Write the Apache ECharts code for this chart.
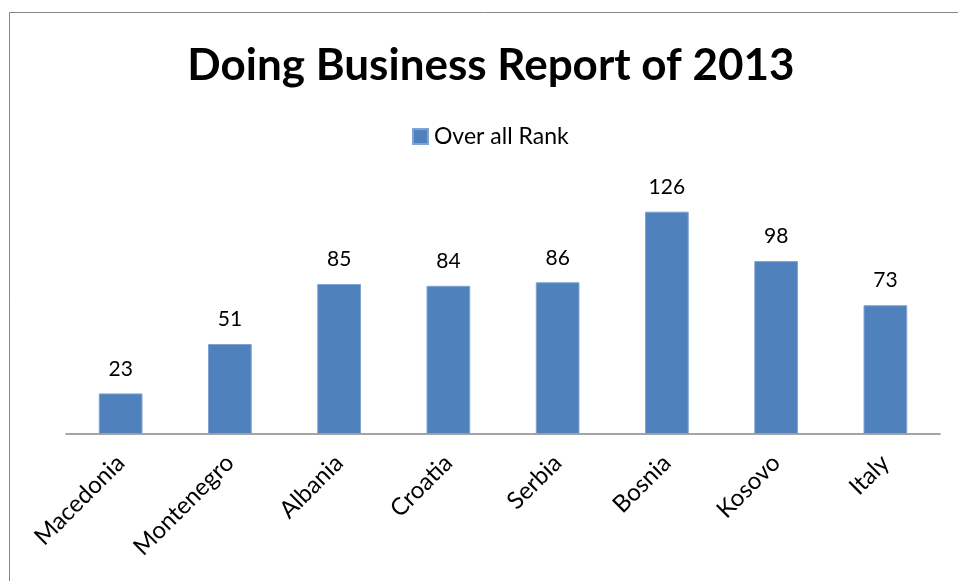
<!DOCTYPE html>
<html>
<head>
<meta charset="utf-8">
<script src="https://cdn.jsdelivr.net/npm/echarts@6/dist/echarts.min.js"></script>
<style>
  html, body { margin: 0; padding: 0; background: #fff; }
  #chart { width: 958px; height: 581px; }
</style>
</head>
<body>
<div id="chart"></div>
<script>
// Doing Business 2013 — overall rank by country
const countries = ['Macedonia', 'Montenegro', 'Albania', 'Croatia', 'Serbia', 'Bosnia', 'Kosovo', 'Italy'];
const overallRank = [23, 51, 85, 84, 86, 126, 98, 73];
const seriesName = 'Over all Rank';
const chartTitle = 'Doing Business Report of 2013';

const FONT = 'Lato, "Open Sans", sans-serif';

const chart = echarts.init(document.getElementById('chart'), null, { renderer: 'canvas' });
chart.setOption({
  backgroundColor: '#ffffff',
  animation: false,
  title: {
    text: chartTitle,
    left: 486,
    top: 39,
    textAlign: 'center',
    textStyle: { fontFamily: FONT, fontWeight: 'bold', fontSize: 44, color: '#000' }
  },
  legend: {
    data: [seriesName],
    left: 412,
    top: 125,
    padding: 0,
    itemWidth: 15,
    itemHeight: 15,
    itemGap: 6,
    icon: 'rect',
    textStyle: { fontFamily: FONT, fontSize: 23, color: '#000', padding: [0, 0, 0, 1] }
  },
  graphic: [{
    type: 'rect',
    shape: { x: 9.5, y: 12.5, width: 1000, height: 1000 },
    style: { fill: 'none', stroke: '#868686', lineWidth: 1 },
    silent: true
  }],
  grid: { left: 66, right: 18, top: 187, bottom: 147, containLabel: false },
  xAxis: {
    type: 'category',
    data: countries,
    axisLine: { lineStyle: { color: '#868686', width: 1.5 } },
    axisTick: { show: false },
    axisLabel: {
      rotate: 45,
      margin: 25,
      interval: 0,
      fontFamily: FONT,
      fontSize: 24,
      color: '#000'
    }
  },
  yAxis: {
    type: 'value',
    min: 0,
    max: 140,
    interval: 20,
    show: false,
    splitLine: { show: false }
  },
  series: [{
    name: seriesName,
    type: 'bar',
    data: overallRank,
    barWidth: '40%',
    itemStyle: { color: '#4F81BD', borderColor: '#7FA3D3', borderWidth: 1 },
    label: {
      show: true,
      position: 'top',
      distance: 14,
      fontFamily: FONT,
      fontSize: 21,
      color: '#000'
    }
  }]
});
</script>
</body>
</html>
